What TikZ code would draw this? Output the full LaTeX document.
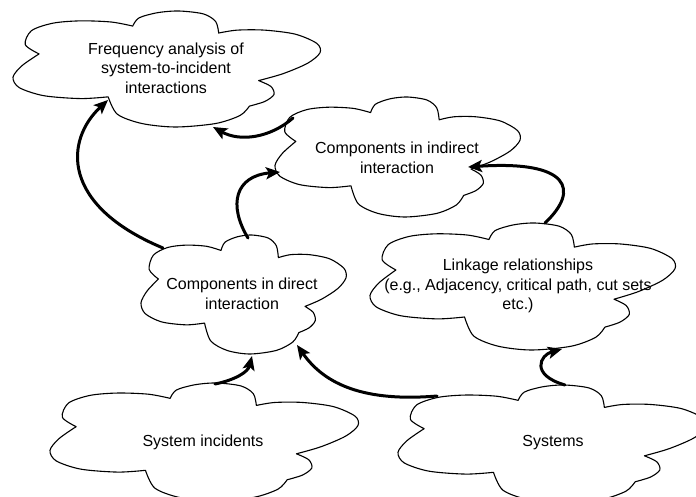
\documentclass[tikz,border=0pt]{standalone}
\usepackage{fontspec}
\setmainfont{Liberation Sans}
\usetikzlibrary{arrows.meta}

\tikzset{
  cloudline/.style={draw=black, line width=1.1pt, fill=white, line join=round},
  cloudtext/.style={align=center, font=\fontsize{16}{19.5}\selectfont, inner sep=0pt},
  flowarrow/.style={line width=3pt, line cap=round,
    -{Stealth[length=14pt,width=12pt,inset=3pt]}},
}

% Six-puff cloud outline drawn in a unit box: #1,#2 = top-left corner, #3,#4 = width, height
\newcommand\cloudshape[4]{%
  \begin{scope}[shift={(#1,#2)}, x=#3pt, y=-#4pt]
    \path[cloudline]
      plot[smooth] coordinates {(0.085,0.37) (0.04,0.29) (0.06,0.17) (0.13,0.105) (0.22,0.085) (0.32,0.095) (0.39,0.13)}
      -- plot[smooth] coordinates {(0.39,0.13) (0.41,0.06) (0.47,0.015) (0.54,0.0) (0.62,0.025) (0.66,0.09) (0.67,0.19)}
      -- plot[smooth] coordinates {(0.67,0.19) (0.73,0.165) (0.82,0.165) (0.92,0.20) (0.99,0.28) (1.0,0.36) (0.96,0.45) (0.88,0.54) (0.80,0.60)}
      -- plot[smooth] coordinates {(0.80,0.60) (0.84,0.65) (0.85,0.72) (0.82,0.78) (0.77,0.82)}
      -- plot[smooth] coordinates {(0.77,0.82) (0.74,0.90) (0.66,0.97) (0.53,1.0) (0.42,0.97) (0.34,0.89) (0.31,0.74)}
      -- plot[smooth] coordinates {(0.31,0.74) (0.22,0.755) (0.10,0.73) (0.02,0.66) (0.0,0.57) (0.03,0.47) (0.085,0.37)}
      -- cycle;
  \end{scope}}

\begin{document}
\begin{tikzpicture}[x=1pt, y=-1pt]
  \useasboundingbox (0,0) rectangle (696,497);
  \fill[white] (0,0) rectangle (696,497);

  % cloud outlines
  \cloudshape{13}{11}{307}{116}
  \cloudshape{275}{97}{245}{120}
  \cloudshape{370}{223}{305}{127}
  \cloudshape{141}{235}{205}{119}
  \cloudshape{50}{383}{308}{118}
  \cloudshape{398}{385}{308}{118}

  % cloud texts
  \node[cloudtext] (freq) at (166,68) {Frequency analysis of\\system-to-incident\\interactions};
  \node[cloudtext] (indirect) at (397,158) {Components in indirect\\interaction};
  \node[cloudtext] (linkage) at (518,286) {Linkage relationships\\(e.g., Adjacency, critical path, cut sets\\etc.)};
  \node[cloudtext] (direct) at (242,294) {Components in direct\\interaction};
  \node[cloudtext] (incidents) at (203,442) {System incidents};
  \node[cloudtext] (systems) at (553,443) {Systems};

  % attachment points on the cloud outlines
  \coordinate (direct-nw) at (163,248);
  \coordinate (freq-sw) at (108,100);
  \coordinate (indirect-nw) at (293,118);
  \coordinate (freq-s) at (213,127);
  \coordinate (direct-n) at (248,238);
  \coordinate (indirect-w) at (280,172);
  \coordinate (linkage-n) at (545,223);
  \coordinate (indirect-e) at (468,167);
  \coordinate (incidents-n) at (215,384);
  \coordinate (direct-s) at (252,356);
  \coordinate (systems-nw) at (437,396);
  \coordinate (direct-se) at (297,345);
  \coordinate (systems-n) at (565,385);
  \coordinate (linkage-s) at (562,349);

  % connectors
  \draw[flowarrow] (direct-nw) .. controls (60,205) and (65,140) .. (freq-sw);
  \draw[flowarrow] (indirect-nw) .. controls (270,138) and (240,142) .. (freq-s);
  \draw[flowarrow] (direct-n) .. controls (228,205) and (235,176) .. (indirect-w);
  \draw[flowarrow] (linkage-n) .. controls (580,190) and (570,160) .. (indirect-e);
  \draw[flowarrow] (incidents-n) .. controls (235,380) and (248,372) .. (direct-s);
  \draw[flowarrow] (systems-nw) .. controls (365,402) and (325,385) .. (direct-se);
  \draw[flowarrow] (systems-n) .. controls (530,375) and (540,355) .. (linkage-s);
\end{tikzpicture}
\end{document}
